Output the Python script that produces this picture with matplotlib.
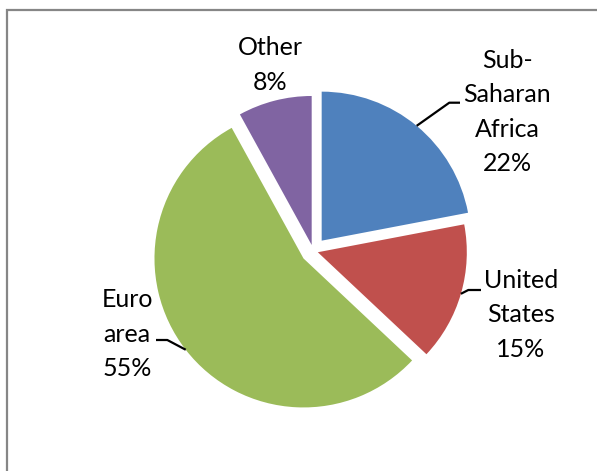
import numpy as np
import matplotlib
matplotlib.use("Agg")
import matplotlib.pyplot as plt
from matplotlib.patches import Rectangle

plt.rcParams['font.family'] = ['Lato', 'DejaVu Sans']

categories = ["Sub-\nSaharan\nAfrica", "United\nStates", "Euro\narea", "Other"]
values = [22, 15, 55, 8]
colors = ["#4F81BD", "#C0504D", "#9BBB59", "#8064A2"]
explode_px = [13.3, 4.8, 12.3, 6.1]

W, H = 597, 471
fig = plt.figure(figsize=(W / 100, H / 100), dpi=100)
ax = fig.add_axes([0, 0, 1, 1])

cx, cy, r = 313.2, H - 250.9, 149
wedges, _ = ax.pie(values, explode=explode_px, colors=colors, startangle=90,
                   counterclock=False, center=(cx, cy), radius=r,
                   wedgeprops=dict(linewidth=0))
ax.set_xlim(0, W)
ax.set_ylim(0, H)
ax.set_aspect('equal')
ax.axis('off')

# outer chart border (gray)
ax.add_patch(Rectangle((7, -20), W + 40, H - 10 + 20, fill=False,
                       edgecolor='#868686', linewidth=1.6, clip_on=False))

# label positions (layout), elbows for leader lines
label_pos = [(507, H - 112), (521, H - 315), (127, H - 334), (270, H - 65)]
elbows = [
    [(449.3, H - 102.7), (460, H - 102.7)],
    [(468.3, H - 290), (481, H - 290)],
    [(167.3, H - 340), (156, H - 340)],
    None,
]

for w, cat, v, pos, elb in zip(wedges, categories, values, label_pos, elbows):
    ax.text(pos[0], pos[1], f"{cat}\n{v}%", ha='center', va='center',
            fontsize=18, linespacing=1.58, color='black')
    if elb is not None:
        mid = np.deg2rad((w.theta1 + w.theta2) / 2)
        x0 = w.center[0] + w.r * np.cos(mid)
        y0 = w.center[1] + w.r * np.sin(mid)
        xs = [x0] + [p[0] for p in elb]
        ys = [y0] + [p[1] for p in elb]
        ax.plot(xs, ys, color='black', linewidth=1.6, solid_capstyle='butt')

fig.savefig("out.png", dpi=100, facecolor='white')
